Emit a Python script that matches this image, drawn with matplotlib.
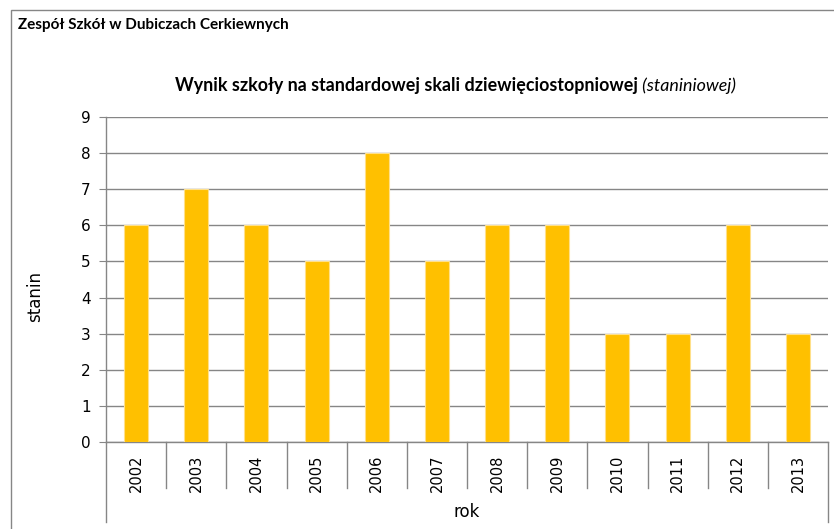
import matplotlib.pyplot as plt
from matplotlib.lines import Line2D
from matplotlib.patches import Rectangle

# data
years = ['2002', '2003', '2004', '2005', '2006', '2007',
         '2008', '2009', '2010', '2011', '2012', '2013']
stanin = [6, 7, 6, 5, 8, 5, 6, 6, 3, 3, 6, 3]
y_ticks = list(range(0, 10))

W, H = 834, 529
fig = plt.figure(figsize=(W / 100, H / 100), dpi=100)
ax = fig.add_axes([106 / W, 1 - 442 / H, (828 - 106) / W, (442 - 117) / H])

grey = '#868686'
x = list(range(len(years)))
ax.bar(x, stanin, width=0.4, color='#FFC000', edgecolor='#FFE08A',
       linewidth=0.8, zorder=3)

ax.set_xlim(-0.5, len(years) - 0.5)
ax.set_ylim(0, 9)
ax.set_yticks(y_ticks)
ax.yaxis.grid(True, color=grey, linewidth=1, zorder=0)
ax.tick_params(axis='y', length=5, color=grey, labelsize=11, pad=6)
ax.set_xticks(x)
ax.set_xticklabels(years, rotation=90, fontsize=10.5)
ax.tick_params(axis='x', length=0, pad=9)

for s in ['top', 'right']:
    ax.spines[s].set_visible(False)
for s in ['left', 'bottom']:
    ax.spines[s].set_color(grey)
    ax.spines[s].set_linewidth(1)

# category separators below the axis
trans = ax.get_xaxis_transform()
for i in range(len(years) + 1):
    low = -0.246 if i in (0, len(years)) else -0.142
    ax.add_line(Line2D([i - 0.5, i - 0.5], [0, low], transform=trans,
                       color=grey, linewidth=1, clip_on=False))

ax.text(0.5, -0.215, 'rok', transform=ax.transAxes, ha='center',
        va='center', fontsize=12)
fig.text(35 / W, 1 - 297 / H, 'stanin', rotation=90, ha='center',
         va='center', fontsize=12)

# outer frame (clipped at right and bottom)
fig.add_artist(Rectangle((11 / W, -0.05), 1.0, 1 - 10 / H + 0.05,
                         transform=fig.transFigure, fill=False,
                         edgecolor=grey, linewidth=1))

fig.text(18 / W, 1 - 25 / H, 'Zespół Szkół w Dubiczach Cerkiewnych',
         fontfamily='Lato', fontweight='bold', fontsize=11, va='center')
t = fig.text(175 / W, 1 - 85 / H,
             'Wynik szkoły na standardowej skali dziewięciostopniowej',
             fontfamily='Lato', fontweight='bold', fontsize=12.9,
             va='center')
ax.annotate(' (staniniowej)', xy=(1, 0), xycoords=t, va='bottom',
            ha='left', fontfamily='Lato', style='italic', fontsize=12.9,
            annotation_clip=False)

fig.savefig('out.png', dpi=100)
